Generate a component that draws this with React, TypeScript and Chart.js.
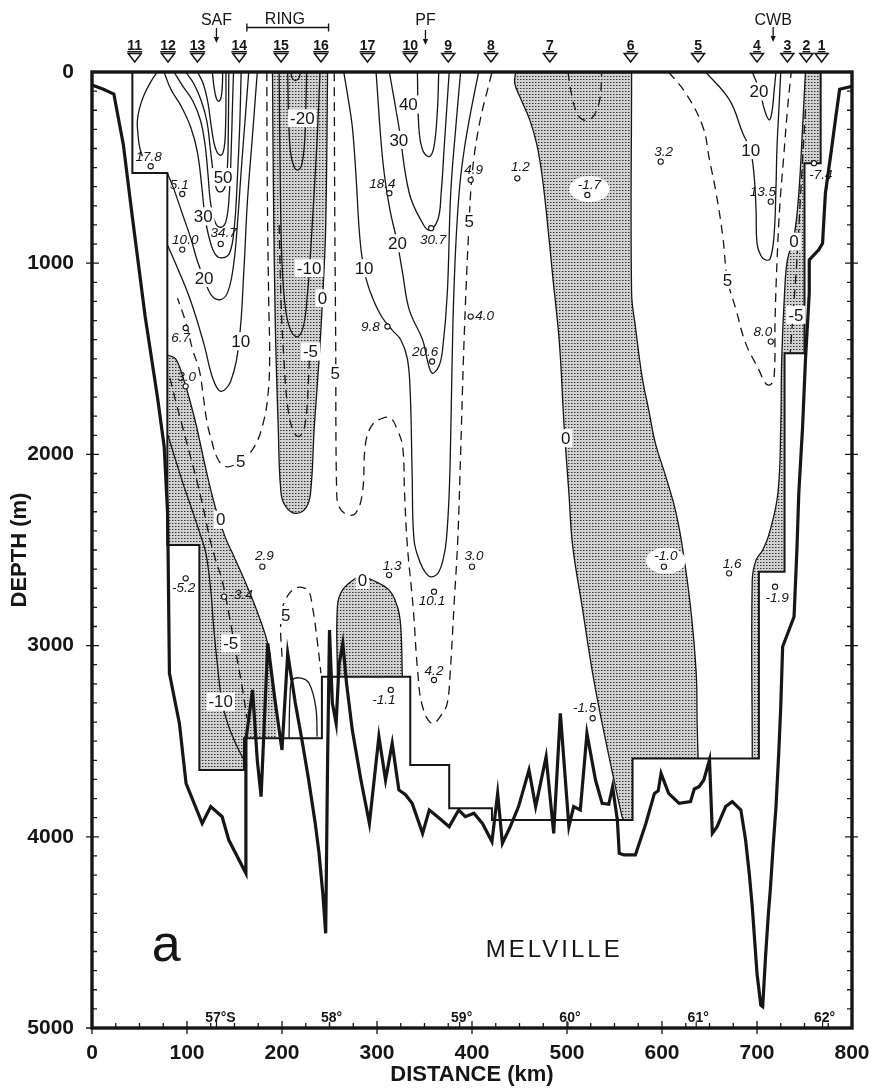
import React, { useEffect, useRef } from "react";
import { Chart, registerables } from "chart.js";
Chart.register(...registerables);

type Pt = [number, number];

// ---------- axes ----------
const distanceTicks = [0, 100, 200, 300, 400, 500, 600, 700, 800];
const depthTicks = [0, 1000, 2000, 3000, 4000, 5000];

// ---------- top annotations ----------
const stationNames = ["11", "12", "13", "14", "15", "16", "17", "10", "9", "8", "7", "6", "5", "4", "3", "2", "1"];
const stationKm = [45, 80, 111, 155, 199, 241, 290, 335, 375, 420, 482, 567, 638, 700, 732, 752, 768];
const frontNames = ["SAF", "PF", "CWB"];
const frontKm = [131, 351, 717];
const frontArrowTop = [28, 30, 27];
const ringText = "RING";
const ringTextKm = 203;
const ringSpanKm: Pt = [163, 249];
const latLabels = ["57°S", "58°", "59°", "60°", "61°", "62°"];
const latKm = [131, 250, 387, 501, 636, 769];

// ---------- bottom / station floor ----------
const bathymetry: Pt[] = [
  [0, 68], [12, 90], [23, 115], [33, 380], [42, 740], [56, 1280], [69, 1704], [76, 1960], [79.5, 2300], [80, 2474],
  [81.5, 3145], [92, 3407], [99, 3720], [116, 3930], [125, 3842], [137, 3895], [144, 4017], [162, 4191], [162, 3494],
  [169, 3232], [174, 3600], [178, 3790], [185, 2988], [193, 3300], [200, 3546], [206, 3041], [214, 3300], [221, 3494],
  [228, 3700], [235, 3930], [239, 4086], [243, 4300], [246, 4505], [248, 3600], [250, 2919], [253, 3300], [257, 3407],
  [260, 3100], [264, 2988], [268, 3200], [274, 3442], [283, 3700], [292, 3930], [302, 3476], [309, 3703], [316, 3511],
  [323, 3755], [330, 3780], [337, 3825], [348, 3982], [355, 3860], [365, 3900], [376, 3947], [386, 3860], [393, 3895],
  [402, 3877], [411, 3930], [421, 4025], [427, 3773], [432, 4034], [440, 3950], [449, 3842], [460, 3651], [467, 3842],
  [478, 3581], [486, 3982], [493, 3354], [502, 3947], [507, 3842], [514, 3860], [521, 3459], [530, 3703], [537, 3825],
  [544, 3830], [548, 3738], [553, 3912], [555, 4086], [560, 4095], [572, 4095], [583, 3930], [592, 3773], [596, 3760],
  [599, 3668], [607, 3773], [618, 3825], [630, 3816], [634, 3750], [639, 3738], [644, 3703], [650, 3598], [653, 3982],
  [658, 3947], [667, 3842], [674, 3816], [683, 3860], [688, 4017], [692, 4200], [695, 4365], [700, 4714], [704, 4880],
  [706, 4888], [709, 4627], [712, 4400], [714, 4278], [717, 4050], [720, 3842], [723, 3550], [725, 3320], [727, 3006],
  [739, 2849], [742, 2500], [744, 2203], [748, 1854], [751, 1506], [755, 1157], [755, 983], [765, 930], [769, 896],
  [772, 634], [778, 420], [783, 233], [787, 90], [800, 75],
];
const stationFloor: Pt[] = [
  [42.5, 0], [42.5, 528], [79.3, 528], [79.3, 2474], [113, 2474], [113, 3650], [160, 3650], [160, 3485], [242, 3485],
  [242, 3163], [335, 3163], [335, 3625], [376, 3625], [376, 3851], [421, 3851], [421, 3912], [569, 3912], [569, 3590],
  [702, 3590], [702, 2614], [729, 2614], [729, 1471], [750, 1471], [750, 477], [767, 477], [767, 0],
];

// ---------- zero contours (edges of the shaded westward flow) ----------
const zeroLeft: Pt[] = [
  [79.3, 1480], [88, 1500], [96, 1600], [102, 1700], [110, 1854], [120, 2080], [130, 2280], [140, 2430], [150, 2540],
  [162, 2675], [172, 2797], [183, 2953], [188, 3060],
];
const zeroLeftClose: Pt[] = [[195, 3485], [160, 3485], [160, 3650], [113, 3650], [113, 2474], [79.3, 2474]];
const zeroRing: Pt[] = [
  [190, 0], [191, 634], [193, 1331], [196, 1854], [199, 2203], [204, 2273], [214, 2308], [225, 2281], [230, 2203],
  [234, 1854], [239, 1506], [243, 1157], [246, 808], [248, 0],
];
const zeroHump: Pt[] = [
  [258.3, 3163], [258.3, 2797], [263.6, 2710], [277.6, 2648], [285, 2640], [295, 2657], [312.7, 2710], [321.5, 2797],
  [325, 2901], [326.7, 3163],
];
const zeroCentralLeft: Pt[] = [
  [446, 0], [445, 59], [450.5, 131], [461, 253], [468, 375], [473, 514], [478, 721], [485, 1070], [492, 1418], [497, 1854],
  [502, 2203], [506, 2480], [516, 2797], [527, 3145], [537, 3407], [548, 3668], [558, 3895], [560, 3912],
];
const zeroCentralStep: Pt[] = [[569, 3912], [569, 3590]];
const zeroCentralRight: Pt[] = [
  [568, 0], [568, 1157], [572, 1331], [579, 1593], [586, 1767], [593, 1941], [604, 2116], [614, 2290], [621, 2470],
  [630, 2797], [636, 3145], [637, 3407], [638, 3590],
];
const zeroCWB: Pt[] = [
  [751, 0], [748, 286], [744, 634], [739, 861], [732, 983], [729, 1157], [726, 1506], [725, 1854], [722, 2203],
  [713, 2412], [706, 2500], [699, 2553], [695, 2657], [695, 3590],
];
const zeroCWBClose: Pt[] = [[702, 3590], [702, 2614], [729, 2614], [729, 1471], [750, 1471], [750, 477], [767, 477], [767, 0]];

// ---------- velocity contours, cm/s ----------
const safLoop: Pt[] = [[68.8, 0], [62, 50], [55, 118], [50, 190], [47.7, 258], [48.5, 330], [50, 390], [53, 441]];
const saf10: Pt[] = [[79.3, 903], [90, 1025], [104, 1199], [118, 1426], [127, 1600], [135.5, 1670], [146, 1617], [154.8, 1408], [160, 1025], [163.6, 676], [169, 328], [174, 0]];
const saf20: Pt[] = [[79.3, 528], [86, 610], [95, 740], [104, 870], [111, 990], [118, 1080], [126, 1170], [135.5, 1190], [143, 1150], [149, 1010], [153, 800], [157, 520], [161, 260], [165, 0]];
const saf30: Pt[] = [[75.8, 0], [83, 90], [94, 180], [104, 290], [111, 420], [116, 620], [119, 760], [124, 880], [130, 955], [137, 972], [145, 945], [150, 800], [153, 560], [155.5, 280], [157, 0]];
const saf40: Pt[] = [[86.3, 0], [95, 70], [106, 150], [114, 250], [119, 380], [122, 530], [125, 690], [130, 790], [135.5, 812], [141, 781], [144.5, 641], [146.5, 415], [148, 153], [149, 0]];
const saf50: Pt[] = [[98.6, 0], [107, 60], [115, 150], [121, 260], [124.5, 400], [128, 540], [131, 610], [135.5, 627], [140, 600], [142.5, 500], [143.5, 300], [144, 0]];
const saf60: Pt[] = [[111, 0], [117, 60], [122, 160], [126, 300], [130, 400], [135.5, 436], [139, 400], [140.5, 300], [141, 150], [141, 0]];
const saf70: Pt[] = [[126.7, 0], [128.5, 80], [131, 140], [133.7, 153], [136, 130], [137.3, 60], [137.5, 0]];
const saf5: Pt[] = [[184, 0], [184.5, 600], [186, 1200], [187, 1500], [185, 1700], [180, 1840], [172, 1950], [162, 2015], [150, 2055], [140, 2063], [132, 2020], [126, 1930], [121, 1830], [117, 1690], [113, 1560], [106, 1454], [99, 1314], [90, 1183]];
const leftNeg5: Pt[] = [[82, 1600], [88, 1720], [95, 1850], [103, 2000], [111, 2150], [118, 2300], [124, 2440], [130, 2550], [137, 2660], [144, 2831], [151, 3023], [158, 3215], [163, 3380]];
const leftNeg10: Pt[] = [[80, 1900], [88, 2030], [97, 2170], [106, 2300], [114, 2420], [120, 2520], [125, 2710], [128, 2900], [132, 3100], [137, 3300], [144, 3424], [152, 3520], [160, 3600]];
const ringNeg5: Pt[] = [[197, 800], [199, 1200], [202, 1500], [206, 1750], [212, 1880], [218, 1906], [224, 1850], [228, 1600], [229, 1400]];
const ringNeg10: Pt[] = [[197, 0], [198, 500], [200, 1000], [204, 1250], [210, 1360], [217, 1384], [223, 1320], [227, 1150], [229, 1026], [233, 700], [237, 350], [240, 0]];
const ringNeg20: Pt[] = [[206, 0], [207, 250], [209, 420], [213, 500], [217, 512], [221, 480], [224, 350], [225, 200], [226, 0]];
const ringNeg30: Pt[] = [[209.5, 0], [210.5, 30], [214, 45], [218, 30], [219, 0]];
const ringDeep5: Pt[] = [[200, 3058], [198.6, 2884], [202, 2779], [214, 2700], [227, 2710], [232, 2797], [237, 2971], [241, 3145]];
const ringDeep0: Pt[] = [[207.4, 3485], [208.5, 3260], [211, 3180], [220, 3170], [228.5, 3197], [235.5, 3320], [237, 3476]];
const pf5: Pt[] = [[255, 0], [255.5, 700], [256.5, 1400], [257.5, 2185], [260, 2273], [269, 2316], [277.6, 2307], [284.6, 2203], [288, 1941], [295, 1846], [305.7, 1811], [314.5, 1811], [321.5, 1872], [327, 1959], [329, 2203], [332, 2480], [338, 2797], [343, 3145], [348, 3320], [358, 3407], [369, 3354], [374, 3300], [377, 3145], [381, 2797], [385, 2448], [388, 2000], [391, 1500], [394, 1100], [397, 782], [399, 600], [402, 450], [406, 320], [411, 198], [416, 100], [421, 0]];
const pf10: Pt[] = [[265, 0], [270, 150], [274, 285], [278, 550], [281, 808], [284, 960], [289, 1090], [296, 1190], [305, 1280], [316, 1350], [325, 1400], [332, 1500], [335, 1680], [337, 2100], [339, 2448], [345, 2560], [352, 2625], [358, 2640], [365, 2615], [370, 2540], [373, 2448], [376, 2200], [378, 1800], [380, 1300], [383, 900], [387, 600], [392, 400], [399, 200], [407, 0]];
const pf20: Pt[] = [[299, 0], [306, 460], [313, 704], [321.5, 896], [327, 1053], [334, 1244], [348, 1401], [353, 1506], [358, 1575], [365, 1540], [369, 1454], [374, 1157], [377.6, 634], [383, 285], [388, 0]];
const pf30: Pt[] = [[313, 0], [323, 285], [334, 634], [348, 791], [355, 826], [364, 773], [367.5, 634], [371, 373], [374.5, 111], [376, 0]];
const pf40: Pt[] = [[342.5, 0], [344, 286], [348, 408], [355, 442], [360, 390], [363.6, 198], [365, 0]];
const centralNeg: Pt[] = [[501, 0], [505, 123], [510, 210], [515, 245], [520.7, 253], [526, 240], [529.5, 218], [534.7, 140], [536.5, 0]];
const cwb5: Pt[] = [[607, 0], [625, 111], [643, 286], [650, 460], [657, 634], [664, 861], [669, 1087], [678, 1244], [688, 1418], [702, 1558], [709, 1628], [714, 1636], [718, 1593], [719, 1300], [721, 1000], [724, 700], [728, 450], [732, 200], [736, 0]];
const cwb10: Pt[] = [[646, 0], [671, 146], [685, 320], [693, 408], [697, 547], [699, 721], [700, 896], [704, 960], [709, 983], [714, 975], [718, 850], [720, 600], [721, 400], [723, 200], [725, 0]];
const cwb20: Pt[] = [[695, 0], [703, 100], [708, 200], [713, 251], [716, 200], [718, 100], [720, 0]];
const cwbNeg5: Pt[] = [[751, 198], [746, 634], [742, 983], [737, 1331], [735, 1471]];

const solidContours: Pt[][] = [
  safLoop, saf10, saf20, saf30, saf40, saf50, saf60, saf70, leftNeg10, ringNeg10, ringNeg20, ringNeg30, ringDeep0,
  pf10, pf20, pf30, pf40, cwb10, cwb20,
  zeroLeft, zeroRing, zeroHump, zeroCentralLeft, zeroCentralRight, zeroCWB,
];
const dashedContours: Pt[][] = [saf5, leftNeg5, ringNeg5, ringDeep5, pf5, centralNeg, cwb5, cwbNeg5];

// contour labels: text, km, depth
const contourLabelText = ["50", "30", "20", "10", "-20", "-10", "0", "-5", "5", "5", "0", "40", "30", "20", "10", "5", "0", "20", "10", "5", "0", "-5", "5", "-5", "-10", "0"];
const contourLabelKm = [138, 117, 118, 156.6, 221.4, 228.5, 242.5, 230, 256, 156.5, 135.5, 333, 323, 321.5, 286.4, 397, 498.6, 702, 693.4, 669, 739, 741, 204, 146, 135.5, 284.6];
const contourLabelDepth = [549, 755, 1077, 1408, 242, 1026, 1183, 1462, 1576, 2037, 2342, 170, 355, 896, 1026, 782, 1915, 102, 408, 1087, 887, 1270, 2840, 2988, 3293, 2657];

// station core values: text, km, depth, text offset dx, dy (px)
const coreText = ["17.8", "5.1", "10.0", "34.7", "6.7", "3.0", "18.4", "30.7", "9.8", "20.6", "4.9", "1.2", "-1.7", "3.2", "4.0", "13.5", "8.0", "-7.4", "-5.2", "-3.4", "2.9", "1.3", "10.1", "4.2", "-1.1", "3.0", "-1.0", "-1.5", "1.6", "-1.9"];
const coreKm = [61.8, 95, 95, 135.5, 98.6, 98.6, 313, 357, 311, 358, 398.6, 447.7, 521.4, 598.6, 398.6, 714.5, 714.5, 760, 98.6, 139, 179.3, 312.7, 360, 360, 314.5, 400, 602, 527, 670.6, 719];
const coreDepth = [493, 638, 929, 899, 1339, 1644, 634, 817, 1331, 1514, 565, 556, 643, 469, 1279, 678, 1410, 477, 2648, 2744, 2587, 2631, 2718, 3180, 3232, 2587, 2587, 3380, 2622, 2692];
const coreDx = [-2, -3, 3, 3, -5, 1, -7, 2, -17, -7, 3, 3, 2, 3, 14, -8, -8, 7, -2, 17, 2, 3, -2, 0, -7, 2, 2, -8, 3, 2];
const coreDy = [-9, -9, -9, -11, 10, -9, -9, 12, 1, -9, -10, -11, -10, -9, 0, -9, -9, 12, 10, -1, -10, -9, 10, -9, 10, -10, -10, -10, -9, 12];
const coreHalo = ["-1.7", "-1.0"];

const shipName = "MELVILLE";
const shipKm = 485;
const shipDepth = 4592;
const panelLetter = "a";
const panelKm = 78;
const panelDepth = 4600;

// ---------- helpers ----------
const toXY = (pts: Pt[]) => pts.map(([x, y]) => ({ x, y }));
const INK = "#161616";
const FONT = '"Liberation Sans", Arial, sans-serif';

function makeStipple(): CanvasPattern | string {
  const c = document.createElement("canvas");
  c.width = 3;
  c.height = 3;
  const g = c.getContext("2d");
  if (!g) return "#bdbdbd";
  g.fillStyle = "#d2d2d2";
  g.fillRect(0, 0, 3, 3);
  g.fillStyle = "#303030";
  g.fillRect(1, 1, 1, 1);
  g.fillStyle = "#8a8a8a";
  g.fillRect(2, 1, 1, 1);
  const p = g.createPattern(c, "repeat");
  return p || "#bdbdbd";
}

type XY = { x: number; y: number };
function smoothTo(ctx: CanvasRenderingContext2D, p: XY[], t: number, area: any, first: boolean) {
  const n = p.length;
  const cps = p.map((cur, i) => {
    const prev = p[Math.max(0, i - 1)];
    const next = p[Math.min(n - 1, i + 1)];
    const d01 = Math.hypot(cur.x - prev.x, cur.y - prev.y);
    const d12 = Math.hypot(next.x - cur.x, next.y - cur.y);
    let s01 = d01 / (d01 + d12);
    let s12 = d12 / (d01 + d12);
    if (!isFinite(s01)) s01 = 0;
    if (!isFinite(s12)) s12 = 0;
    const fa = t * s01;
    const fb = t * s12;
    const cl = (v: number, a: number, b: number) => Math.max(a, Math.min(b, v));
    return {
      px: cl(cur.x - fa * (next.x - prev.x), area.left, area.right),
      py: cl(cur.y - fa * (next.y - prev.y), area.top, area.bottom),
      nx: cl(cur.x + fb * (next.x - prev.x), area.left, area.right),
      ny: cl(cur.y + fb * (next.y - prev.y), area.top, area.bottom),
    };
  });
  if (first) ctx.moveTo(p[0].x, p[0].y);
  else ctx.lineTo(p[0].x, p[0].y);
  for (let i = 1; i < n; i++) {
    ctx.bezierCurveTo(cps[i - 1].nx, cps[i - 1].ny, cps[i].px, cps[i].py, p[i].x, p[i].y);
  }
}

const TENSION = 0.4;

function artPlugin(pattern: CanvasPattern | string) {
  return {
    id: "sectionArt",
    beforeDraw(chart: any) {
      const ctx = chart.ctx as CanvasRenderingContext2D;
      ctx.save();
      ctx.fillStyle = "#ffffff";
      ctx.fillRect(0, 0, chart.width, chart.height);
      ctx.restore();
    },
    beforeDatasetsDraw(chart: any) {
      const ctx = chart.ctx as CanvasRenderingContext2D;
      const a = chart.chartArea;
      const sx = chart.scales.x;
      const sy = chart.scales.y;
      const px = (pts: Pt[]) => pts.map(([x, y]) => ({ x: sx.getPixelForValue(x), y: sy.getPixelForValue(y) }));
      const straight = (pts: XY[]) => pts.forEach((q) => ctx.lineTo(q.x, q.y));
      ctx.save();
      ctx.beginPath();
      ctx.rect(a.left, a.top, a.right - a.left, a.bottom - a.top);
      ctx.clip();
      ctx.fillStyle = pattern as any;
      ctx.beginPath();
      smoothTo(ctx, px(zeroLeft), TENSION, a, true);
      straight(px(zeroLeftClose));
      ctx.closePath();
      ctx.fill();
      ctx.beginPath();
      smoothTo(ctx, px(zeroRing), TENSION, a, true);
      ctx.closePath();
      ctx.fill();
      ctx.beginPath();
      smoothTo(ctx, px(zeroHump), TENSION, a, true);
      ctx.closePath();
      ctx.fill();
      ctx.beginPath();
      smoothTo(ctx, px(zeroCentralLeft), TENSION, a, true);
      straight(px(zeroCentralStep));
      smoothTo(ctx, px([...zeroCentralRight].reverse()), TENSION, a, false);
      ctx.closePath();
      ctx.fill();
      ctx.beginPath();
      smoothTo(ctx, px(zeroCWB), TENSION, a, true);
      straight(px(zeroCWBClose));
      ctx.closePath();
      ctx.fill();
      ctx.restore();
    },
    afterDatasetsDraw(chart: any) {
      const ctx = chart.ctx as CanvasRenderingContext2D;
      const a = chart.chartArea;
      const sx = chart.scales.x;
      const sy = chart.scales.y;
      const X = (v: number) => sx.getPixelForValue(v);
      const Y = (v: number) => sy.getPixelForValue(v);
      ctx.save();
      ctx.fillStyle = INK;
      ctx.strokeStyle = INK;
      ctx.font = `17px ${FONT}`;
      ctx.textAlign = "center";
      ctx.textBaseline = "middle";
      contourLabelText.forEach((t, i) => {
        const x = X(contourLabelKm[i]);
        const y = Y(contourLabelDepth[i]);
        const w = ctx.measureText(t).width;
        ctx.fillStyle = "#ffffff";
        ctx.fillRect(x - w / 2 - 2, y - 9, w + 4, 18);
        ctx.fillStyle = INK;
        ctx.fillText(t, x, y + 1);
      });
      ctx.font = `italic 13.5px ${FONT}`;
      coreText.forEach((t, i) => {
        const cx = X(coreKm[i]);
        const cy = Y(coreDepth[i]);
        const tx = cx + coreDx[i];
        const ty = cy + coreDy[i];
        if (coreHalo.includes(t)) {
          ctx.fillStyle = "#ffffff";
          ctx.beginPath();
          ctx.ellipse(tx, ty + 4, 20, 13, 0, 0, Math.PI * 2);
          ctx.fill();
        }
        ctx.fillStyle = INK;
        ctx.fillText(t, tx, ty);
        ctx.beginPath();
        ctx.arc(cx, cy, 2.6, 0, Math.PI * 2);
        ctx.fillStyle = "#ffffff";
        ctx.fill();
        ctx.lineWidth = 1.1;
        ctx.stroke();
        ctx.fillStyle = INK;
      });
      ctx.font = `24px ${FONT}`;
      (ctx as any).letterSpacing = "3px";
      ctx.fillText(shipName, X(shipKm) + 1.5, Y(shipDepth));
      (ctx as any).letterSpacing = "0px";
      ctx.font = `52px "Liberation Sans Narrow", ${FONT}`;
      ctx.fillText(panelLetter, X(panelKm), Y(panelDepth) - 5);
      ctx.font = `bold 14px ${FONT}`;
      ctx.textBaseline = "alphabetic";
      latLabels.forEach((t, i) => {
        const x = X(latKm[i]);
        ctx.fillText(t, x + (i === 0 ? 4 : 2), a.bottom - 6);
        ctx.fillRect(x - 0.6, a.bottom - 6, 1.2, 6);
      });
      ctx.lineWidth = 3.4;
      ctx.strokeRect(a.left, a.top, a.right - a.left, a.bottom - a.top);
      ctx.lineWidth = 1.3;
      ctx.beginPath();
      for (let d = 100; d < 5000; d += 100) {
        const y = Y(d);
        const major = d % 1000 === 0;
        ctx.moveTo(a.left - (major ? 6 : 0), y);
        ctx.lineTo(a.left + (major ? 7 : 5), y);
        ctx.moveTo(a.right + (major ? 6 : 0), y);
        ctx.lineTo(a.right - (major ? 7 : 5), y);
      }
      for (let k = 25; k < 800; k += 25) {
        const x = X(k);
        const major = k % 100 === 0;
        ctx.moveTo(x, a.bottom + (major ? 6 : 0));
        ctx.lineTo(x, a.bottom - (major ? 7 : 5));
      }
      ctx.moveTo(a.left - 6, a.bottom);
      ctx.lineTo(a.left, a.bottom);
      ctx.moveTo(a.left, a.bottom);
      ctx.lineTo(a.left, a.bottom + 6);
      ctx.stroke();
      ctx.restore();
    },
    afterDraw(chart: any) {
      const ctx = chart.ctx as CanvasRenderingContext2D;
      const sx = chart.scales.x;
      const X = (v: number) => sx.getPixelForValue(v);
      ctx.save();
      ctx.fillStyle = INK;
      ctx.strokeStyle = INK;
      ctx.textAlign = "center";
      ctx.textBaseline = "alphabetic";
      ctx.font = `bold 14px ${FONT}`;
      stationNames.forEach((n, i) => {
        const x = X(stationKm[i]);
        ctx.fillText(n, x, 50);
        const w = ctx.measureText(n).width;
        ctx.fillRect(x - w / 2, 51, w, 1.4);
        ctx.beginPath();
        ctx.moveTo(x - 6.5, 53.5);
        ctx.lineTo(x + 6.5, 53.5);
        ctx.lineTo(x, 62);
        ctx.closePath();
        ctx.lineWidth = 1.5;
        ctx.stroke();
      });
      ctx.font = `16px ${FONT}`;
      frontNames.forEach((n, i) => {
        const x = X(frontKm[i]);
        ctx.fillText(n, x, 25);
        const top = frontArrowTop[i];
        ctx.lineWidth = 1.3;
        ctx.beginPath();
        ctx.moveTo(x, top);
        ctx.lineTo(x, top + 11);
        ctx.stroke();
        ctx.beginPath();
        ctx.moveTo(x - 2.6, top + 9);
        ctx.lineTo(x + 2.6, top + 9);
        ctx.lineTo(x, top + 15);
        ctx.closePath();
        ctx.fill();
      });
      ctx.fillText(ringText, X(ringTextKm), 24);
      const r0 = X(ringSpanKm[0]);
      const r1 = X(ringSpanKm[1]);
      ctx.lineWidth = 1.4;
      ctx.beginPath();
      ctx.moveTo(r0, 27.5);
      ctx.lineTo(r1, 27.5);
      ctx.moveTo(r0, 23.5);
      ctx.lineTo(r0, 31.5);
      ctx.moveTo(r1, 23.5);
      ctx.lineTo(r1, 31.5);
      ctx.stroke();
      ctx.restore();
    },
  };
}

export default function App() {
  const ref = useRef<HTMLCanvasElement>(null);
  useEffect(() => {
    const canvas = ref.current;
    if (!canvas) return;
    const pattern = makeStipple();
    const line = (pts: Pt[], extra: any) => ({
      data: toXY(pts),
      showLine: true,
      pointRadius: 0,
      pointHoverRadius: 0,
      borderColor: INK,
      backgroundColor: INK,
      fill: false,
      ...extra,
    });
    const datasets: any[] = [
      line(bathymetry, { borderWidth: 3.2, tension: 0, order: 0 }),
      line(stationFloor, { borderWidth: 2, tension: 0, order: 1 }),
      ...solidContours.map((c) => line(c, { borderWidth: 1.3, tension: TENSION, order: 3 })),
      ...dashedContours.map((c) => line(c, { borderWidth: 1.3, tension: TENSION, borderDash: [9, 6], order: 2 })),
    ];
    const tickFont = { family: FONT, size: 21, weight: "bold" as const };
    const titleFont = { family: FONT, size: 22, weight: "bold" as const };
    const chart = new Chart(canvas, {
      type: "scatter",
      data: { datasets },
      options: {
        responsive: false,
        animation: false,
        devicePixelRatio: 1,
        events: [],
        layout: { padding: { top: 72, right: 25, left: 0, bottom: 0 } },
        plugins: { legend: { display: false }, tooltip: { enabled: false } },
        scales: {
          x: {
            type: "linear",
            min: 0,
            max: 800,
            afterBuildTicks: (s: any) => {
              s.ticks = distanceTicks.map((v) => ({ value: v }));
            },
            afterFit: (s: any) => {
              s.height = 62;
            },
            grid: { display: false },
            border: { display: false },
            ticks: { font: tickFont, color: INK, padding: 5, maxRotation: 0, autoSkip: false, callback: (v: any) => String(v) },
            title: { display: true, text: "DISTANCE (km)", font: titleFont, color: INK, padding: { top: 0, bottom: 2 } },
          },
          y: {
            type: "linear",
            reverse: true,
            min: 0,
            max: 5000,
            afterBuildTicks: (s: any) => {
              s.ticks = depthTicks.map((v) => ({ value: v }));
            },
            afterFit: (s: any) => {
              s.width = 92;
            },
            grid: { display: false },
            border: { display: false },
            ticks: { font: tickFont, color: INK, padding: 10, autoSkip: false, callback: (v: any) => String(v) },
            title: { display: true, text: "DEPTH (m)", font: titleFont, color: INK, padding: { top: 7, bottom: 0 } },
          },
        },
      } as any,
      plugins: [artPlugin(pattern) as any],
    });
    return () => chart.destroy();
  }, []);
  return (
    <div style={{ position: "fixed", left: 0, top: 0, width: 877, height: 1090, background: "#fff" }}>
      <canvas ref={ref} width={877} height={1090} style={{ display: "block", width: 877, height: 1090 }} />
    </div>
  );
}
